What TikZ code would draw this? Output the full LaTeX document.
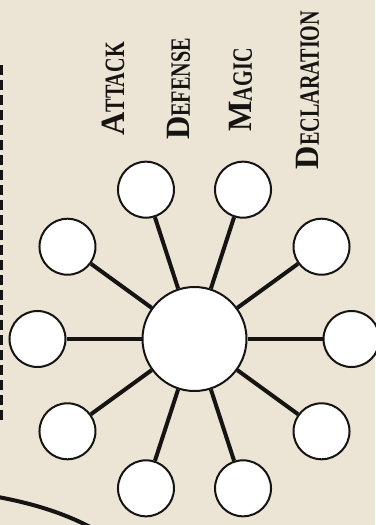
\documentclass[tikz,border=0pt]{standalone}
\usepackage{fontspec}
\usepackage{xcolor}
\newfontfamily\capsbig{Liberation Serif}[FakeStretch=0.95]
\newfontfamily\capssmall{Liberation Serif}[FakeStretch=0.72]
\definecolor{parchment}{RGB}{236,229,213}
\definecolor{ink}{RGB}{22,20,18}
\newcommand{\capword}[2]{{\capsbig\bfseries\fontsize{34}{34}\selectfont #1}{\capssmall\bfseries\fontsize{28}{28}\selectfont #2}}

\begin{document}
\begin{tikzpicture}[x=1pt,y=-1pt,
  hubstyle/.style={circle, draw=ink, line width=2pt, fill=white, minimum size=104pt, inner sep=0pt},
  spot/.style={circle, draw=ink, line width=2pt, fill=white, minimum size=56pt, inner sep=0pt},
  spoke/.style={draw=ink, line width=4pt},
  tag/.style={rotate=90, inner sep=0pt, text=ink}]
\useasboundingbox (0,0) rectangle (375,525);
\fill[parchment] (0,0) rectangle (375,525);
% cut-off edge of the page
\draw[ink, line width=3pt, dash pattern=on 10pt off 5pt] (1.5,65) -- (1.5,423);
\draw[ink, line width=4pt] (-2,497) .. controls (30,503) and (62,512) .. (92,528);
% labels
\node[tag] (attack) at (113,89) {\capword{A}{TTACK}};
\node[tag] (defense) at (179,89) {\capword{D}{EFENSE}};
\node[tag] (magic) at (241,90) {\capword{M}{AGIC}};
\node[tag] (declaration) at (308,90) {\capword{D}{ECLARATION}};
% hub and spots
\node[hubstyle] (hub) at (194.5,339) {};
\begin{scope}[shift={(194.5,339)}]
 \foreach \i in {0,...,9}
  \node[spot] (s\i) at (\i*36:157) {};
\end{scope}
\foreach \i in {0,...,9}
  \path[spoke] (hub) -- (s\i);
\end{tikzpicture}
\end{document}
